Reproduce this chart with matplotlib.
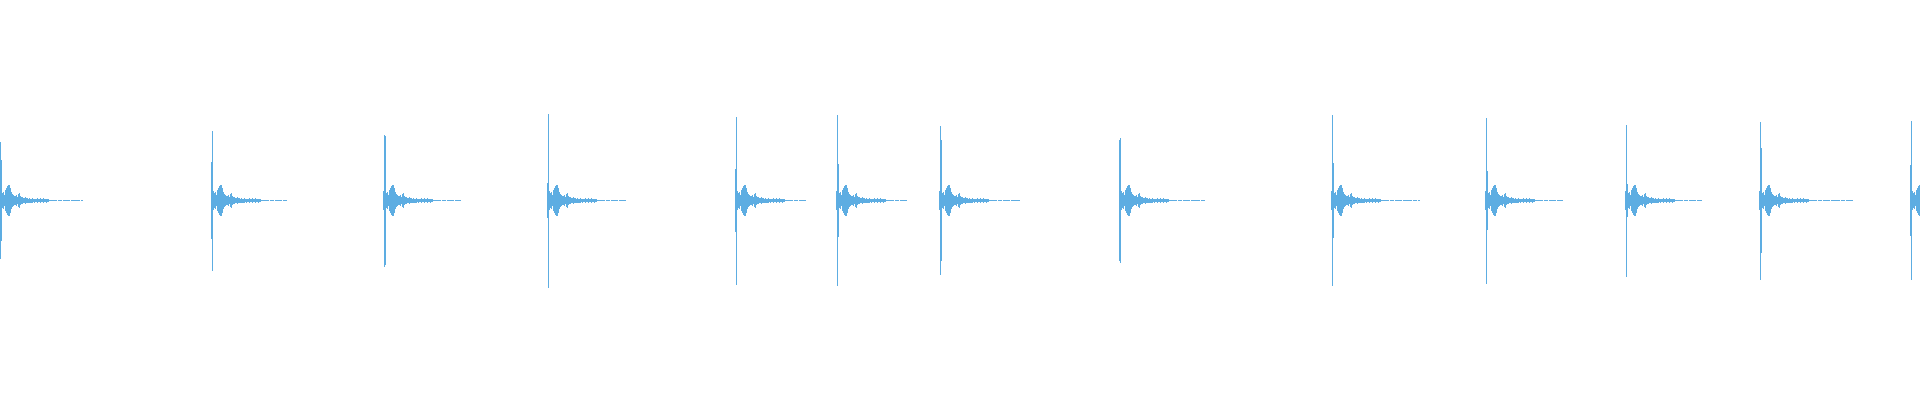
import numpy as np
import matplotlib
matplotlib.use("Agg")
import matplotlib.pyplot as plt

# waveform of 13 percussive hits, time in seconds, amplitude -1..1
duration = 12.0
col = 1 / 160.0  # one drawn column of the waveform

hit_time = [0.0, 1.325, 2.40, 3.425, 4.60, 5.232, 5.877, 7.0, 8.327, 9.29, 10.16, 11.0, 11.945]
peak_up = [0.29, 0.345, 0.325, 0.43, 0.415, 0.425, 0.37, 0.31, 0.425, 0.41, 0.375, 0.39, 0.395]
peak_dn = [0.29, 0.35, 0.33, 0.435, 0.42, 0.425, 0.37, 0.31, 0.425, 0.415, 0.38, 0.395, 0.395]
# the strong column right next to the spike
second_amp = [0.20, 0.19, 0.32, 0.085, 0.155, 0.18, 0.30, 0.30, 0.185, 0.145, 0.08, 0.26, 0.175]
second_side = [1, -1, 1, -1, -1, 1, 1, -1, 1, 1, 1, 1, -1]
# end of the faint tail, seconds after the hit
tail_len = [0.51, 0.46, 0.475, 0.48, 0.44, 0.43, 0.50, 0.53, 0.54, 0.47, 0.47, 0.575, 0.30]

# decay envelope after the spike (amplitude per column, read from the hit at 3.4 s)
body = [0.045, 0.03, 0.04, 0.025, 0.05, 0.06, 0.07, 0.075, 0.075, 0.06,
        0.04, 0.03, 0.025, 0.02, 0.02, 0.025, 0.015, 0.03, 0.035, 0.02,
        0.015, 0.015, 0.01, 0.01, 0.015, 0.01, 0.01, 0.0075, 0.01, 0.0075,
        0.0075, 0.01, 0.005, 0.0075, 0.005, 0.005, 0.01, 0.005, 0.005, 0.01,
        0.005, 0.005, 0.01, 0.005, 0.005, 0.0075, 0.005, 0.005]

color = "#5dade2"
px = 0.72  # one pixel line width at 100 dpi

fig = plt.figure(figsize=(19.2, 4), dpi=100)
ax = fig.add_axes([0, 0, 1, 1])

for i, t in enumerate(hit_time):
    # main spike
    ax.vlines(t, -peak_dn[i], peak_up[i], color=color, lw=px, antialiased=False)
    ax.vlines(t + second_side[i] * col, -second_amp[i], second_amp[i], color=color, lw=px, antialiased=False)
    ax.vlines(t - second_side[i] * col, -0.045, 0.045, color=color, lw=px, antialiased=False)
    ax.vlines(t + 2 * col, -0.035, 0.035, color=color, lw=px, antialiased=False)
    # body of the decay
    xs = t + col * np.arange(1, len(body) + 1)
    amps = np.array(body)
    ax.vlines(xs[2:], -amps[2:], amps[2:], color=color, lw=px, antialiased=False)
    # faint tail
    ax.hlines(0, xs[-1], t + tail_len[i], color=color, lw=px, antialiased=False,
              linestyles=(0, (9, 1.5, 4, 1.5, 6, 2)))

ax.set_xlim(0, duration)
ax.set_ylim(-1, 1)
ax.axis("off")
fig.savefig("out.png", dpi=100, facecolor="white")
